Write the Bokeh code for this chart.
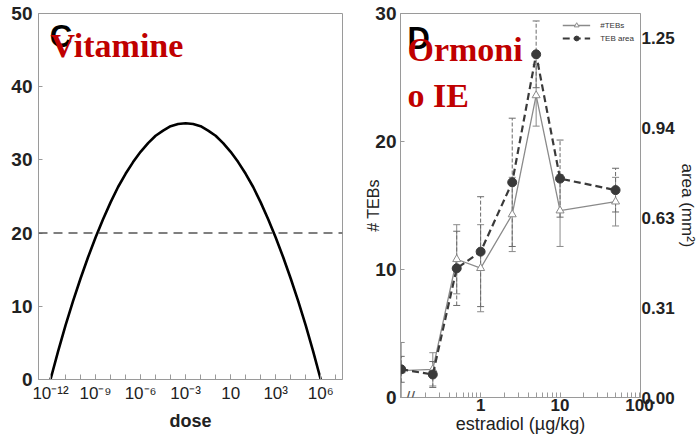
from bokeh.plotting import figure
from bokeh.models import (FixedTicker, Label, Range1d, LinearAxis, Whisker, ColumnDataSource,
                          Legend, LegendItem, TeeHead, Span, CustomJSTickFormatter)
from bokeh.layouts import row, column
from bokeh.embed import file_html
from bokeh.resources import INLINE

# ---------------- Panel C data ----------------
dose_exponents = [-12, -11.5, -11, -10.5, -10, -9.5, -9, -8.5, -8, -7.5, -7, -6.5, -6, -5.5, -5,
                  -4.5, -4, -3.5, -3, -2.5, -2, -1.5, -1, -0.5, 0, 0.5, 1, 1.5, 2, 2.5, 3, 3.5,
                  4, 4.5, 5, 5.5, 6]
response = [0.0, 3.8, 7.4, 10.7, 13.8, 16.7, 19.4, 21.9, 24.2, 26.3, 28.1, 29.7, 31.1, 32.3, 33.3,
            34.0, 34.6, 34.9, 35.0, 34.9, 34.6, 34.0, 33.3, 32.3, 31.1, 29.7, 28.1, 26.3, 24.2,
            21.9, 19.4, 16.7, 13.8, 10.7, 7.4, 3.8, 0.0]
threshold = 20
c_tick_exponents = [-12, -9, -6, -3, 0, 3, 6]
c_tick_labels = ["10⁻¹²", "10⁻⁹", "10⁻⁶", "10⁻³", "10", "10³", "10⁶"]
c_y_ticks = [0, 10, 20, 30, 40, 50]

# ---------------- Panel D data ----------------
# first dose (0.1) stands for the untreated control placed at the axis break
estradiol = [0.1, 0.25, 0.5, 1, 2.5, 5, 10, 50]
teb_count = [2.1, 2.2, 10.8, 10.1, 14.3, 23.6, 14.6, 15.3]
teb_err = [2.2, 1.3, 2.7, 3.4, 2.9, 2.4, 2.8, 1.9]
teb_area = [0.098, 0.080, 0.449, 0.507, 0.748, 1.193, 0.761, 0.721]
teb_area_err = [0.045, 0.045, 0.129, 0.191, 0.223, 0.116, 0.134, 0.076]
d_x_ticks = [1, 10, 100]
d_x_minor = [0.2, 0.3, 0.4, 0.5, 0.6, 0.7, 0.8, 0.9, 2, 3, 4, 5, 6, 7, 8, 9,
             20, 30, 40, 50, 60, 70, 80, 90]
d_y_ticks = [0, 10, 20, 30]
area_ticks = [0, 0.3125, 0.625, 0.9375, 1.25]
area_labels = ["0.00", "0.31", "0.63", "0.94", "1.25"]

SANS = "Liberation Sans"
SERIF = "Liberation Serif"
RED = "#c00000"
AX = "#9a9a9a"
TXT = "#222222"

# ================= Panel C =================
p1 = figure(width=355, height=437, x_axis_type="log",
            x_range=(10 ** -12.8, 10 ** 7.45), y_range=(0, 50),
            output_backend="svg", toolbar_location=None,
            min_border_left=38, min_border_right=13, min_border_top=13, min_border_bottom=58)
p1.grid.visible = False
p1.outline_line_color = AX

doses = [10.0 ** e for e in dose_exponents]
p1.line(doses, response, line_color="black", line_width=2.6)
p1.add_layout(Span(location=threshold, dimension="width", line_color="#555555",
                   line_width=1.5, line_dash="9 6"))

xa = p1.xaxis[0]
xa.ticker = FixedTicker(ticks=[10.0 ** e for e in c_tick_exponents],
                        minor_ticks=[10.0 ** e for e in range(-13, 8)])
xa.formatter = CustomJSTickFormatter(args=dict(exps=c_tick_exponents, labels=c_tick_labels), code="""
    const e = Math.round(Math.log10(tick));
    const i = exps.indexOf(e);
    return i >= 0 ? labels[i] : '';
""")
xa.axis_label = "dose"
xa.axis_label_text_font = SANS
xa.axis_label_text_font_style = "bold"
xa.axis_label_text_font_size = "18px"
xa.axis_label_text_color = TXT
xa.axis_label_standoff = 5
xa.major_label_text_font = SANS
xa.major_label_text_font_size = "17px"
xa.major_label_text_color = TXT
xa.major_label_standoff = 4
xa.major_tick_in = 5
xa.major_tick_out = 0
xa.minor_tick_in = 5
xa.minor_tick_out = 0

ya = p1.yaxis[0]
ya.ticker = FixedTicker(ticks=c_y_ticks)
ya.major_label_text_font = SANS
ya.major_label_text_font_style = "bold"
ya.major_label_text_font_size = "19px"
ya.major_label_text_color = TXT
ya.major_tick_in = 4
ya.major_tick_out = 0
ya.major_label_standoff = 6

for ax in (xa, ya):
    ax.axis_line_color = AX
    ax.major_tick_line_color = AX
    ax.minor_tick_line_color = AX if ax is xa else None

p1.add_layout(Label(x=10 ** -12.05, y=49.3, text="C", text_font=SANS, text_font_style="bold",
                    text_font_size="31px", text_color="black", text_baseline="top"))
p1.add_layout(Label(x=10 ** -12.0, y=45.6, text="Vitamine", text_font=SERIF,
                    text_font_style="bold", text_font_size="34px", text_color=RED,
                    text_baseline="alphabetic"))
p1.add_layout(Label(x=10 ** -15.05, y=-4.4, text="ORE D", text_font=SERIF,
                    text_font_style="italic", text_font_size="12px", text_color="#3b6cc9",
                    angle=-0.62, text_baseline="middle", text_align="left"))

# ================= Panel D =================
p2 = figure(width=344, height=437, x_axis_type="log", x_range=(0.098, 103), y_range=(0, 30),
            output_backend="svg", toolbar_location=None,
            min_border_left=45, min_border_right=56, min_border_top=13, min_border_bottom=40)
p2.grid.visible = False
p2.outline_line_color = AX
p2.extra_y_ranges = {"area": Range1d(0, 1.335)}

teb_src = ColumnDataSource(dict(x=estradiol, y=teb_count,
                                upper=[v + e for v, e in zip(teb_count, teb_err)],
                                lower=[v - e for v, e in zip(teb_count, teb_err)]))
area_src = ColumnDataSource(dict(x=estradiol, y=teb_area,
                                 upper=[v + e for v, e in zip(teb_area, teb_area_err)],
                                 lower=[v - e for v, e in zip(teb_area, teb_area_err)]))

GRAY = "#8a8a8a"
DARK = "#3a3a3a"
p2.add_layout(Whisker(source=teb_src, base="x", upper="upper", lower="lower",
                      line_color=GRAY, line_width=1,
                      upper_head=TeeHead(size=7, line_color=GRAY),
                      lower_head=TeeHead(size=7, line_color=GRAY)))
p2.add_layout(Whisker(source=area_src, base="x", upper="upper", lower="lower",
                      y_range_name="area", line_color="#6a6a6a", line_width=1, line_dash="4 2",
                      upper_head=TeeHead(size=7, line_color="#6a6a6a"),
                      lower_head=TeeHead(size=7, line_color="#6a6a6a")))

l1 = p2.line("x", "y", source=teb_src, line_color=GRAY, line_width=1.3)
s1 = p2.scatter("x", "y", source=teb_src, marker="triangle", size=8,
                line_color=GRAY, fill_color="white", line_width=1)
l2 = p2.line("x", "y", source=area_src, y_range_name="area", line_color=DARK,
             line_width=2.2, line_dash="7 4")
s2 = p2.scatter("x", "y", source=area_src, y_range_name="area", marker="circle", size=9,
                line_color=DARK, fill_color=DARK)

legend = Legend(items=[LegendItem(label="#TEBs", renderers=[l1, s1]),
                       LegendItem(label="TEB area", renderers=[l2, s2])],
                location="top_right", label_text_font=SANS, label_text_font_size="8px",
                label_text_color="#333333", glyph_width=28, glyph_height=12,
                label_height=12, spacing=1, padding=3, margin=3, label_standoff=10,
                border_line_alpha=0, background_fill_alpha=0)
p2.add_layout(legend)

xb = p2.xaxis[0]
xb.ticker = FixedTicker(ticks=d_x_ticks, minor_ticks=d_x_minor)
xb.major_label_overrides = {1: "1", 10: "10", 100: "100"}
xb.axis_label = "estradiol (µg/kg)"
xb.axis_label_text_font = SANS
xb.axis_label_text_font_style = "normal"
xb.axis_label_text_font_size = "18px"
xb.axis_label_text_color = TXT
xb.axis_label_standoff = 0
xb.major_label_text_font = SANS
xb.major_label_text_font_style = "bold"
xb.major_label_text_font_size = "17px"
xb.major_label_text_color = TXT
xb.major_label_standoff = 1
xb.major_tick_in = 5
xb.major_tick_out = 0
xb.minor_tick_in = 5
xb.minor_tick_out = 0

yb = p2.yaxis[0]
yb.ticker = FixedTicker(ticks=d_y_ticks)
yb.axis_label = "# TEBs"
yb.axis_label_text_font = SANS
yb.axis_label_text_font_style = "normal"
yb.axis_label_text_font_size = "16px"
yb.axis_label_text_color = TXT
yb.axis_label_standoff = -10
yb.major_label_text_font = SANS
yb.major_label_text_font_style = "bold"
yb.major_label_text_font_size = "19px"
yb.major_label_text_color = TXT
yb.major_label_standoff = 4
yb.major_tick_in = 4
yb.major_tick_out = 0

ra = LinearAxis(y_range_name="area", ticker=FixedTicker(ticks=area_ticks),
                major_label_overrides={t: s for t, s in zip(area_ticks, area_labels)},
                axis_label="area (mm²)")
ra.axis_label_text_font = SANS
ra.axis_label_text_font_style = "normal"
ra.axis_label_text_font_size = "17px"
ra.axis_label_text_color = TXT
ra.axis_label_standoff = 0
ra.major_label_text_font = SANS
ra.major_label_text_font_style = "bold"
ra.major_label_text_font_size = "17px"
ra.major_label_text_color = TXT
ra.major_label_standoff = 1
ra.major_tick_in = 0
ra.major_tick_out = 0
p2.add_layout(ra, "right")

for ax in (xb, yb, ra):
    ax.axis_line_color = AX
    ax.major_tick_line_color = AX
    ax.minor_tick_line_color = AX if ax is xb else None

p2.add_layout(Label(x=0.13, y=0, text="//", text_font=SANS, text_font_size="17px",
                    text_color="#555555", text_align="center", text_baseline="middle"))
p2.add_layout(Label(x=0.12, y=29.4, text="D", text_font=SANS, text_font_style="bold",
                    text_font_size="31px", text_color="black", text_baseline="top"))
p2.add_layout(Label(x=0.12, y=27.2, text="Ormoni", text_font=SERIF,
                    text_font_style="bold", text_font_size="34px", text_color=RED,
                    text_baseline="alphabetic"))
p2.add_layout(Label(x=0.12, y=23.6, text="o IE", text_font=SERIF,
                    text_font_style="bold", text_font_size="34px", text_color=RED,
                    text_baseline="alphabetic"))

layout = row(column(p1), column(p2))
open("out.html", "w").write(file_html(layout, INLINE))
